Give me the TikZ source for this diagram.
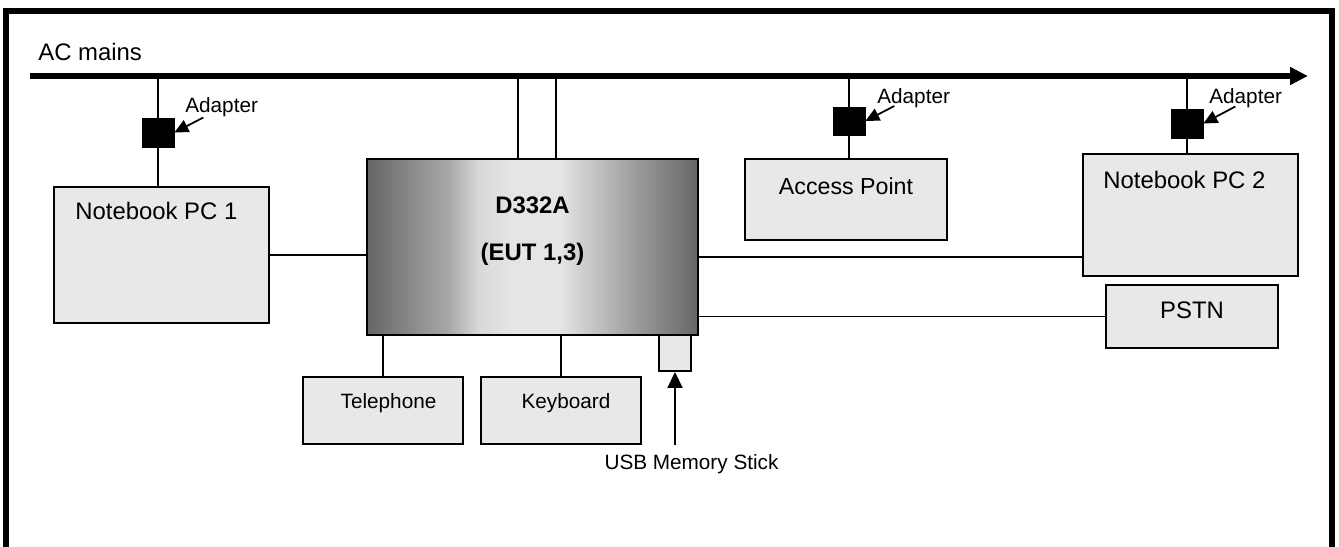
\documentclass[tikz,border=0pt]{standalone}
\usepackage{fontspec}
\setmainfont{Liberation Sans}
\usetikzlibrary{arrows.meta,positioning,calc}

\definecolor{boxgray}{HTML}{E8E8E8}
% grey bar across the EUT, dark at both sides
\pgfdeclarehorizontalshading{eutshade}{100bp}{color(0bp)=(black!60); color(25bp)=(black!60);
  color(37bp)=(black!35); color(42bp)=(black!15); color(47bp)=(black!10); color(54bp)=(black!10);
  color(60bp)=(black!25); color(66bp)=(black!40); color(75bp)=(black!60); color(100bp)=(black!60)}

\begin{document}
\begin{tikzpicture}[
				x=0.02cm, y=-0.02cm,
				unit/.style={draw,line width=1.1pt,fill=boxgray,inner sep=0pt},
				adapter/.style={draw,fill=black,inner sep=0pt,minimum width=0.64cm,minimum height=0.58cm},
				wire/.style={line width=1.05pt},
				mains/.style={line width=3.2pt,-{Triangle[length=0.36cm,width=0.34cm]}},
				pointer/.style={line width=1pt,-{Triangle[length=0.28cm,width=0.26cm]}},
				bigtxt/.style={font=\fontsize{13.6}{16}\selectfont,inner sep=0pt},
				smalltxt/.style={font=\fontsize{11.8}{14}\selectfont,inner sep=0pt}
			]
			\useasboundingbox (0,0) rectangle (1339,547);
			\draw[line width=3.2pt] (6.3,547) -- (6.3,11) -- (1332,11) -- (1332,547);

			% mains bus
			\coordinate (bus) at (30,76);
			\coordinate (busend) at (1308,76);
			\draw[mains] (bus) -- (busend);
			\node[bigtxt,anchor=base west] (mainslbl) at (38,61) {AC mains};

			% units
			\node[unit,minimum width=4.3cm,minimum height=2.72cm] (nb1) at (161.5,255) {};
			\node[unit,draw=black,shading=eutshade,minimum width=6.62cm,minimum height=3.52cm] (eut) at (532.5,247) {};
			\node[unit,minimum width=4.04cm,minimum height=1.62cm] (ap) at (846,199.5) {};
			\node[unit,minimum width=4.3cm,minimum height=2.44cm] (nb2) at (1190.5,215) {};
			\node[unit,minimum width=3.44cm,minimum height=1.26cm] (pstn) at (1192,316.5) {};
			\node[unit,minimum width=3.2cm,minimum height=1.34cm] (tel) at (383,410.5) {};
			\node[unit,minimum width=3.2cm,minimum height=1.34cm] (kbd) at (561,410.5) {};
			\node[unit,minimum width=0.64cm,minimum height=0.72cm] (usb) at (675,353) {};

			\node[bigtxt,anchor=base west] (nb1lbl) at (75,220) {Notebook PC 1};
			\node[bigtxt,anchor=base west] (nb2lbl) at (1103,189) {Notebook PC 2};
			\node[bigtxt,font=\fontsize{13.2}{16}\selectfont,anchor=base] (aplbl) at (846,195) {Access Point};
			\node[bigtxt,font=\fontsize{13.6}{16}\selectfont\bfseries,anchor=base] (eutlbl) at (532.5,214) {D332A};
			\node[bigtxt,font=\fontsize{13.6}{16}\selectfont\bfseries,anchor=base] (eutnum) at (532.5,261) {(EUT 1,3)};
			\node[bigtxt,anchor=base] (pstnlbl) at (1192,318) {PSTN};
			\node[smalltxt,anchor=base] (tellbl) at (388.5,408) {Telephone};
			\node[smalltxt,anchor=base] (kbdlbl) at (566,408) {Keyboard};
			\node[smalltxt,anchor=base] (usblbl) at (691.5,469) {USB Memory Stick};

			% adapters
			\node[adapter] (ad1) at (158,132.5) {};
			\node[adapter,minimum height=0.56cm] (ad2) at (849,121) {};
			\node[adapter] (ad3) at (1187,123.5) {};
			\node[smalltxt,anchor=base west] (ad1lbl) at (185,113) {Adapter};
			\node[smalltxt,anchor=base west] (ad2lbl) at (877,104) {Adapter};
			\node[smalltxt,anchor=base west] (ad3lbl) at (1209,104) {Adapter};

			\draw[wire] (ad1 |- bus) -- (ad1 |- nb1.north);
			\draw[wire] (ad2 |- bus) -- (ad2 |- ap.north);
			\draw[wire] (ad3 |- bus) -- (ad3 |- nb2.north);
			\draw[pointer] ($(ad1.east)+(29,-15)$) -- (ad1.east);
			\draw[pointer] ($(ad2.east)+(29,-15)$) -- (ad2.east);
			\draw[pointer] ($(ad3.east)+(32,-17)$) -- (ad3.east);

			% EUT connections
			\coordinate (eutin1) at ($(eut.north west)!0.456!(eut.north east)$);
			\coordinate (eutin2) at ($(eut.north west)!0.571!(eut.north east)$);
			\draw[wire] (eutin1) -- (eutin1 |- bus);
			\draw[wire] (eutin2) -- (eutin2 |- bus);
			\draw[wire] (nb1.east) -- (nb1.east -| eut.west);
			\coordinate (nb2in) at ($(nb2.south west)!0.164!(nb2.north west)$);
			\draw[wire] (nb2in -| eut.east) -- (nb2in);
			\draw[wire] (pstn.west -| eut.east) -- (pstn.west);
			\draw[wire] (tel.north |- eut.south) -- (tel.north);
			\draw[wire] (kbd.north |- eut.south) -- (kbd.north);
			\draw[wire,-{Triangle[length=0.32cm,width=0.3cm]}] ($(usb.south |- usblbl.north)+(0,-9)$) -- (usb.south);
		\end{tikzpicture}
\end{document}
